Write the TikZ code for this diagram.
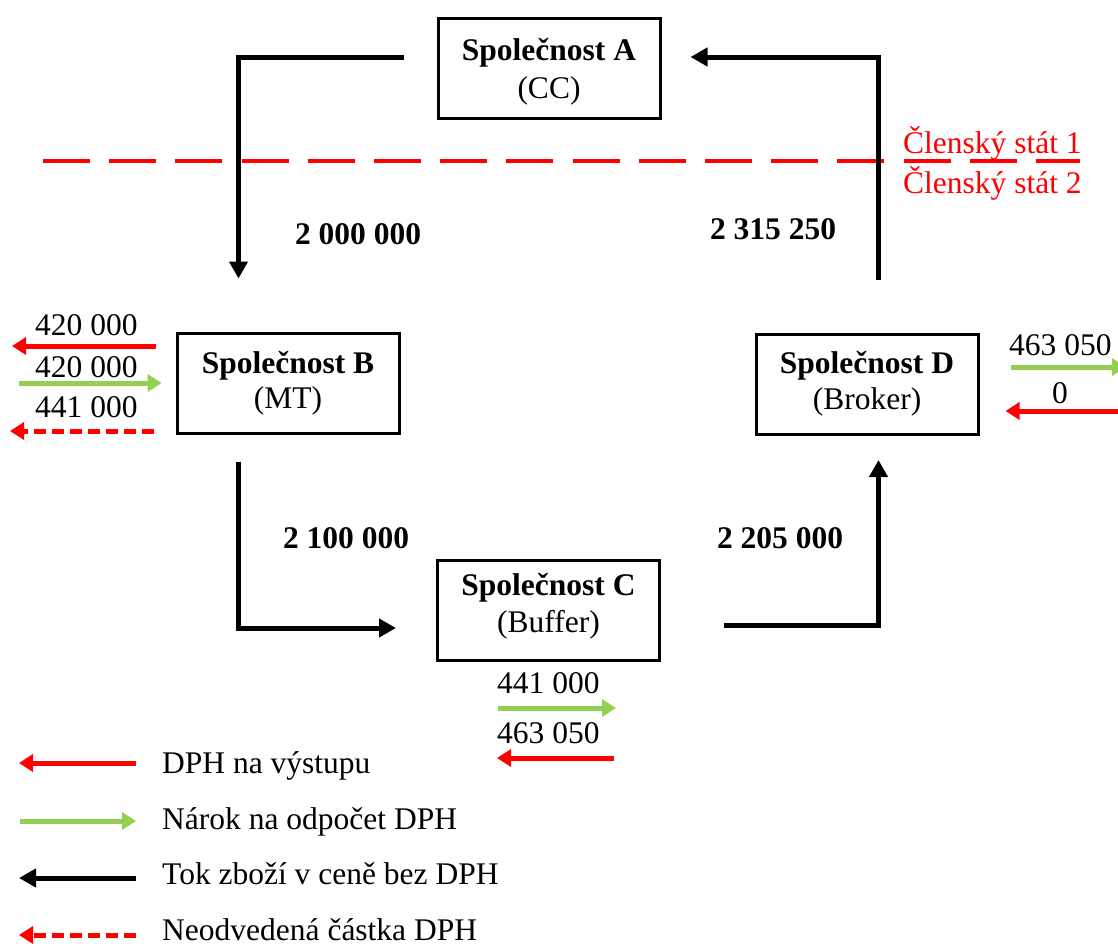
\documentclass[tikz,border=0pt]{standalone}
\usepackage{fontspec}
\setmainfont{Liberation Serif}
\usetikzlibrary{arrows.meta,calc}
\definecolor{vatred}{HTML}{FF0000}
\definecolor{vatgreen}{HTML}{92D050}
\begin{document}
\begin{tikzpicture}[x=1pt,y=-1pt,
  every node/.style={font=\fontsize{31.5}{37}\selectfont},
  company/.style={draw, line width=3pt, minimum width=222pt, minimum height=100pt, inner sep=0pt},
  title/.style={font=\fontsize{31.5}{37}\selectfont\bfseries, anchor=base, inner sep=0pt},
  role/.style={anchor=base, inner sep=0pt},
  goods/.style={line width=5pt, -{Triangle[length=17pt,width=18pt]}},
  amount/.style={font=\fontsize{31.5}{37}\selectfont\bfseries, anchor=base, inner sep=0pt},
  num/.style={anchor=base west, inner sep=0pt},
  outvat/.style={vatred, line width=5pt, -{Triangle[length=14pt,width=17pt]}},
  invat/.style={vatgreen, line width=5pt, -{Triangle[length=14pt,width=17pt]}},
  unpaid/.style={vatred, line width=5pt, dash pattern=on 12pt off 6pt, -{Triangle[length=14pt,width=17pt]}},
  legendtext/.style={anchor=base west, inner sep=0pt}
]
\useasboundingbox (0,0) rectangle (1118,943);

% member-state border
\draw[vatred, line width=4pt, dash pattern=on 47pt off 19.2pt] (43,161) -- (1080,161);
\node[num, text=vatred] (ms1) at (903,153) {Členský stát 1};
\node[num, text=vatred] (ms2) at (903,193) {Členský stát 2};

% companies
\node[company] (A) at (549,68) {};
\node[title] (A1) at ($(A.north)+(0,44)$) {Společnost A};
\node[role]  (A2) at ($(A.north)+(0,82)$) {(CC)};
\node[company] (B) at (288,383) {};
\node[title] (B1) at ($(B.north)+(0,42)$) {Společnost B};
\node[role]  (B2) at ($(B.north)+(0,77)$) {(MT)};
\node[company] (C) at (548.5,610.5) {};
\node[title] (C1) at ($(C.north)+(0,36)$) {Společnost C};
\node[role]  (C2) at ($(C.north)+(0,73)$) {(Buffer)};
\node[company] (D) at (867,384.5) {};
\node[title] (D1) at ($(D.north)+(0,40)$) {Společnost D};
\node[role]  (D2) at ($(D.north)+(0,76)$) {(Broker)};

% flow of goods
\coordinate (a0) at ($(A.west)+(-33,-11)$);
\coordinate (b0) at ($(B.north west)+(63,-53)$);
\draw[goods] (a0) -| (b0);
\coordinate (b1) at ($(B.south west)+(63,27)$);
\coordinate (c0) at ($(C.west)+(-40,17.5)$);
\draw[goods] (b1) |- (c0);
\coordinate (c1) at ($(C.east)+(63,14.5)$);
\coordinate (d0) at ($(D.south west)+(124,24)$);
\draw[goods] (c1) -| (d0);
\coordinate (d1) at ($(D.north west)+(124,-53)$);
\coordinate (a1) at ($(A.east)+(29,-11)$);
\draw[goods] (d1) |- (a1);

\node[amount] (v1) at (358,244) {2 000 000};
\node[amount] (v2) at (773,239) {2 315 250};
\node[amount] (v3) at (346,548) {2 100 000};
\node[amount] (v4) at (780,548) {2 205 000};

% VAT of company B
\node[num] (b-out) at (35,335) {420 000};
\coordinate (bo1) at ($(B.west)+(-20,-37)$);
\coordinate (bo2) at (12,346);
\draw[outvat] (bo1) -- (bo2);
\node[num] (b-in) at (35,377) {420 000};
\coordinate (bi1) at (19,383);
\coordinate (bi2) at ($(B.west)+(-14,0)$);
\draw[invat] (bi1) -- (bi2);
\node[num] (b-un) at (35,417) {441 000};
\coordinate (bu1) at ($(B.west)+(-22,48)$);
\coordinate (bu2) at (10,431);
\draw[unpaid] (bu1) -- (bu2);

% VAT of company C
\node[num] (c-in) at (497,693) {441 000};
\coordinate (ci1) at ($(C.south west)+(62,46)$);
\coordinate (ci2) at ($(C.south west)+(180,46)$);
\draw[invat] (ci1) -- (ci2);
\node[num] (c-out) at (497,743) {463 050};
\coordinate (co1) at ($(C.south west)+(178,96)$);
\coordinate (co2) at ($(C.south west)+(61,96)$);
\draw[outvat] (co1) -- (co2);

% VAT of company D
\node[num] (d-in) at (1009,355) {463 050};
\coordinate (di1) at ($(D.east)+(31,-17.5)$);
\coordinate (di2) at (1126,367);
\draw[invat] (di1) -- (di2);
\node[role] (d-out) at (1060,403) {0};
\coordinate (do1) at (1122,411);
\coordinate (do2) at ($(D.east)+(26,26.5)$);
\draw[outvat] (do1) -- (do2);

% legend
\coordinate (l1a) at (136,763); \coordinate (l1b) at (19,763);
\draw[outvat] (l1a) -- (l1b);
\node[legendtext] (t1) at (162,773) {DPH na výstupu};
\coordinate (l2a) at (20,821); \coordinate (l2b) at (136,821);
\draw[invat] (l2a) -- (l2b);
\node[legendtext] (t2) at (162,829) {Nárok na odpočet DPH};
\coordinate (l3a) at (136,878); \coordinate (l3b) at (19,878);
\draw[goods] (l3a) -- (l3b);
\node[legendtext] (t3) at (162,884) {Tok zboží v ceně bez DPH};
\coordinate (l4a) at (136,935); \coordinate (l4b) at (19,935);
\draw[unpaid] (l4a) -- (l4b);
\node[legendtext] (t4) at (162,940) {Neodvedená částka DPH};
\end{tikzpicture}
\end{document}
